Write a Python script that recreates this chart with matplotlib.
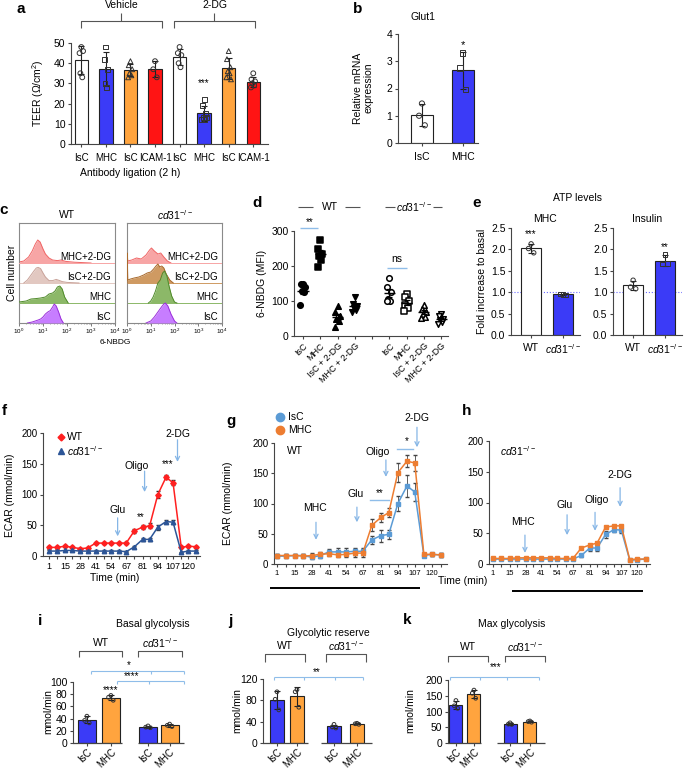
import numpy as np
import matplotlib
matplotlib.use("Agg")
import matplotlib.pyplot as plt

plt.rcParams["font.family"] = ["Liberation Sans", "DejaVu Sans"]
plt.rcParams["font.size"] = 7.5
plt.rcParams["mathtext.fontset"] = "custom"
plt.rcParams["mathtext.rm"] = "Liberation Sans"
plt.rcParams["mathtext.it"] = "Liberation Sans:italic"
plt.rcParams["mathtext.bf"] = "Liberation Sans:bold"
plt.rcParams["axes.linewidth"] = 0.8

# ---------------- data ----------------
a_labels = ["IsC", "MHC", "IsC", "ICAM-1", "IsC", "MHC", "IsC", "ICAM-1"]
a_points = [
    [48, 45, 46, 35, 33],
    [48, 42, 37, 30, 28],
    [41, 39, 37, 35, 34, 33],
    [41, 37, 33],
    [48, 45, 44, 40, 38],
    [22, 19, 15, 13, 12, 12, 13],
    [46, 42, 38, 36, 35, 33, 32],
    [35, 32, 31, 30, 29, 28],
]

b_labels = ["IsC", "MHC"]
b_points = [[1.45, 1.0, 0.65], [3.3, 2.75, 1.95]]

c_rows = ["IsC", "MHC", "IsC+2-DG", "MHC+2-DG"]
wt_isc_logx = [0.35, 0.55, 0.8, 0.9, 1.0, 1.1, 1.2, 1.3, 1.4, 1.47, 1.55, 1.65, 1.75, 1.85]
wt_isc_h = [0.0, 0.05, 0.15, 0.2, 0.3, 0.45, 0.55, 0.62, 0.8, 0.95, 0.85, 0.55, 0.2, 0.0]
wt_mhc_logx = [0.0, 0.3, 0.5, 0.7, 0.9, 1.1, 1.25, 1.4, 1.5, 1.6, 1.7, 1.8, 1.9, 2.05]
wt_mhc_h = [0.05, 0.1, 0.2, 0.22, 0.25, 0.3, 0.45, 0.5, 0.6, 0.8, 0.85, 0.7, 0.3, 0.0]
wt_isc2dg_logx = [0.2, 0.35, 0.5, 0.62, 0.72, 0.8, 0.9, 1.0, 1.1, 1.25, 1.4, 1.55, 1.65, 1.8, 2.0, 2.5]
wt_isc2dg_h = [0.0, 0.15, 0.4, 0.6, 0.75, 0.78, 0.72, 0.5, 0.3, 0.12, 0.12, 0.18, 0.14, 0.07, 0.03, 0.0]
wt_mhc2dg_logx = [0.0, 0.2, 0.4, 0.55, 0.68, 0.78, 0.88, 1.0, 1.1, 1.25, 1.4, 1.6, 1.75, 1.95, 2.3, 3.0]
wt_mhc2dg_h = [0.05, 0.1, 0.3, 0.6, 0.95, 1.15, 1.05, 0.7, 0.45, 0.25, 0.15, 0.12, 0.15, 0.08, 0.04, 0.0]
ko_isc_logx = [0.8, 1.0, 1.15, 1.3, 1.45, 1.55, 1.62, 1.72, 1.85, 2.0, 2.1]
ko_isc_h = [0.0, 0.1, 0.3, 0.55, 0.8, 0.95, 1.0, 0.85, 0.45, 0.1, 0.0]
ko_mhc_logx = [0.9, 1.0, 1.1, 1.2, 1.3, 1.4, 1.5, 1.58, 1.68, 1.78, 1.88, 2.0, 2.1]
ko_mhc_h = [0.0, 0.1, 0.3, 0.6, 1.0, 1.15, 1.5, 1.6, 1.35, 0.8, 0.35, 0.05, 0.0]
ko_isc2dg_logx = [0.0, 0.01, 0.03, 0.15, 0.3, 0.5, 0.7, 0.85, 1.0, 1.12, 1.22, 1.3, 1.38, 1.46, 1.55, 1.65, 1.8, 1.95]
ko_isc2dg_h = [0.0, 1.5, 0.15, 0.2, 0.25, 0.3, 0.4, 0.5, 0.55, 0.7, 0.85, 0.95, 0.8, 0.85, 0.75, 0.45, 0.15, 0.0]
ko_mhc2dg_logx = [0.0, 0.01, 0.03, 0.2, 0.4, 0.6, 0.8, 0.95, 1.03, 1.15, 1.3, 1.42, 1.55, 1.7, 1.85]
ko_mhc2dg_h = [0.0, 0.5, 0.1, 0.15, 0.25, 0.2, 0.4, 0.65, 0.75, 0.6, 0.45, 0.5, 0.3, 0.1, 0.0]

d_labels = ["IsC", "MHC", "IsC + 2-DG", "MHC + 2-DG"]
d_wt_points = [
    [150, 148, 140, 128, 125, 88],
    [275, 250, 235, 228, 218, 198],
    [85, 70, 58, 50, 42, 25],
    [112, 92, 85, 80, 75, 68],
]
d_ko_points = [
    [165, 140, 125, 105, 100, 100],
    [120, 112, 100, 90, 80, 72],
    [88, 78, 70, 62, 55, 52],
    [62, 58, 50, 45, 40, 35],
]

e_mhc_points = [[2.13, 2.02, 1.92], [0.95, 0.96, 0.93]]
e_ins_points = [[1.28, 1.12, 1.08], [1.88, 1.66, 1.67]]

times = [1, 8, 15, 21, 28, 34, 41, 48, 54, 61, 67, 74, 81, 87, 94, 101, 107, 114, 120, 127]
time_ticks = [1, 15, 28, 41, 54, 67, 81, 94, 107, 120]
f_wt = [14, 14, 16, 14, 12, 13, 21, 21, 21, 21, 21, 41, 47, 49, 100, 128, 119, 14, 16, 15]
f_wt_err = [2, 2, 2, 1.5, 1.5, 2, 1.5, 1.5, 1.5, 1.5, 1.5, 3, 3, 4, 5, 3, 4, 1.5, 1.5, 1.5]
f_ko = [8, 8, 9, 9, 8, 8, 8, 8, 8, 8, 7, 15, 27, 27, 47, 56, 55, 6, 8, 8]
f_ko_err = [1, 1, 1, 1, 1, 1, 1, 1, 1, 1, 1, 2, 2, 2, 4, 3, 3, 1, 1, 1]
g_isc = [13, 13, 14, 14, 11, 14, 20, 20, 20, 21, 21, 40, 47, 49, 100, 129, 119, 14, 16, 15]
g_isc_err = [3, 3, 3, 3, 3, 4, 5, 6, 6, 6, 6, 7, 10, 8, 12, 18, 15, 3, 3, 3]
g_mhc = [14, 14, 14, 13, 14, 16, 17, 15, 16, 18, 18, 64, 77, 85, 151, 170, 167, 16, 16, 15]
g_mhc_err = [3, 3, 3, 3, 4, 4, 3, 4, 4, 6, 6, 10, 7, 8, 16, 10, 13, 3, 3, 3]
h_isc = [8, 8, 8, 8, 8, 8, 8, 8, 8, 8, 8, 14, 26, 26, 48, 56, 55, 6, 7, 8]
h_isc_err = [1, 1, 1, 1, 1, 1, 1, 1, 1, 1, 1, 2, 5, 5, 5, 4, 5, 1, 1, 1]
h_mhc = [9, 9, 9, 10, 10, 10, 10, 10, 9, 9, 9, 26, 31, 34, 60, 62, 62, 7, 8, 8]
h_mhc_err = [1, 1, 1, 1, 1, 1, 1, 1, 1, 1, 1, 2, 2, 2, 2, 2, 2, 1, 1, 1]

ijk_labels = ["IsC", "MHC", "IsC", "MHC"]
i_points = [[44, 37, 33], [78, 75, 70], [28, 26, 25], [31, 29, 27]]
j_points = [[96, 82, 62], [100, 96, 67], [35, 30, 28], [37, 36, 35]]
k_points = [[135, 118, 110], [168, 158, 142], [64, 60, 59], [70, 68, 66]]

# ---------------- style ----------------
BLUE = "#3b3bf7"
ORANGE = "#ffa43e"
RED = "#ff1414"
AX = "#454545"
SIG = "#8fbde9"
ARROW = "#86b6e6"
KO = r"$\mathit{cd31}^{-/-}$"

W, H = 685, 771
fig = plt.figure(figsize=(W / 100, H / 100), dpi=100)


def px_axes(x0, y0, x1, y1):
    return fig.add_axes([x0 / W, 1 - y1 / H, (x1 - x0) / W, (y1 - y0) / H])


def style(ax, size=7.5):
    for s in ["top", "right"]:
        ax.spines[s].set_visible(False)
    for s in ["left", "bottom"]:
        ax.spines[s].set_color(AX)
    ax.tick_params(length=2.5, width=0.8, color=AX, labelsize=size, pad=1.5)
    ax.patch.set_alpha(0)


JIT = np.array([0, -0.13, 0.13, -0.07, 0.07, -0.17, 0.17])


def bars(ax, pts_list, colors, markers, width, pos=None, ms=12):
    pos = np.arange(len(pts_list)) if pos is None else np.asarray(pos)
    means = [np.mean(p) for p in pts_list]
    sds = [np.std(p, ddof=1) for p in pts_list]
    ax.bar(pos, means, width=width, color=colors, edgecolor="#222", linewidth=0.8, zorder=2)
    ax.errorbar(pos, means, yerr=sds, fmt="none", ecolor="#222", elinewidth=0.8,
                capsize=2, capthick=0.8, zorder=3)
    for x, p, m in zip(pos, pts_list, markers):
        ax.scatter(x + JIT[:len(p)] * width, p, marker=m, s=ms, facecolor="none",
                   edgecolor="#333", linewidths=0.7, zorder=4, clip_on=False)
    return pos


# ---------------- panel a ----------------
ax = px_axes(71, 43, 268, 144)
style(ax)
bars(ax, a_points, ["white", BLUE, ORANGE, RED] * 2, ["o", "s", "^", "o"] * 2, 0.55)
ax.set_xlim(-0.42, 7.6)
ax.set_ylim(0, 50)
ax.set_yticks(range(0, 51, 10))
ax.set_xticks(range(8))
ax.set_xticklabels(a_labels, fontsize=7)
ax.tick_params(axis="x", pad=4)
ax.text(5, 30, "***", ha="center", va="center", fontsize=7)

# ---------------- panel b ----------------
ax = px_axes(398, 34, 478, 143)
style(ax)
bars(ax, b_points, ["white", BLUE], ["o", "s"], 0.54, ms=14)
ax.set_xlim(-0.585, 1.37)
ax.set_ylim(0, 4)
ax.set_yticks(range(5))
ax.set_xticks([0, 1])
ax.set_xticklabels(b_labels)
ax.tick_params(axis="x", pad=4)
ax.text(1, 3.6, "*", ha="center", va="center", fontsize=8)

# ---------------- panel c ----------------
c_wt = [(wt_isc_logx, wt_isc_h, "#c77dff", "#9b30d9"),
        (wt_mhc_logx, wt_mhc_h, "#8cb868", "#4f8a2a"),
        (wt_isc2dg_logx, wt_isc2dg_h, "#e2c8c1", "#c9a39a"),
        (wt_mhc2dg_logx, wt_mhc2dg_h, "#f7a5a5", "#f06565")]
c_ko = [(ko_isc_logx, ko_isc_h, "#c77dff", "#9b30d9"),
        (ko_mhc_logx, ko_mhc_h, "#8cb868", "#4f8a2a"),
        (ko_isc2dg_logx, ko_isc2dg_h, "#cf9a62", "#a8692c"),
        (ko_mhc2dg_logx, ko_mhc2dg_h, "#f7a5a5", "#f06565")]
for box, hists in [((19, 223, 115, 323), c_wt), ((127, 223, 222, 323), c_ko)]:
    ax = px_axes(*box)
    ax.set_xscale("log")
    for off in [3, 2, 1, 0]:
        lx, hh, fc, ec = hists[off]
        xs = 10 ** np.asarray(lx)
        ys = off + np.asarray(hh)
        ax.axhline(off, color=fc, lw=0.7, zorder=off)
        ax.fill_between(xs, off, ys, color=fc, lw=0, zorder=4 - off + 1)
        ax.plot(xs, ys, color=ec, lw=0.7, zorder=4 - off + 1)
        ax.text(0.96, off + 0.28, c_rows[off], transform=ax.get_yaxis_transform(),
                ha="right", va="center", fontsize=7, zorder=10)
    ax.set_xlim(1, 1e4)
    ax.set_ylim(0, 5)
    ax.set_yticks([])
    for s in ax.spines.values():
        s.set_color("#8a8a8a")
    ax.tick_params(axis="x", which="major", length=2, width=0.6, labelsize=4.5, pad=1, color="#666")
    ax.tick_params(axis="x", which="minor", length=1, width=0.4, color="#666")

# ---------------- panel d ----------------
ax = px_axes(294, 231, 448, 336)
style(ax)
d_pos = [0, 1, 2, 3, 5, 6, 7, 8]
d_marks = ["o", "s", "^", "v"]
for k, pts in enumerate(d_wt_points + d_ko_points):
    x = d_pos[k]
    m = d_marks[k % 4]
    filled = k < 4
    mean = np.mean(pts)
    sem = np.std(pts, ddof=1) / np.sqrt(len(pts))
    ax.scatter(x + JIT[:len(pts)] * 0.9, pts, marker=m, s=16,
               facecolor="black" if filled else "white", edgecolor="black",
               linewidths=1.1, zorder=3)
    ax.hlines(mean, x - 0.32, x + 0.32, color="black", lw=1, zorder=4)
    ax.errorbar(x, mean, yerr=sem, fmt="none", ecolor="black", elinewidth=0.9,
                capsize=2.5, capthick=0.9, zorder=4)
ax.set_xlim(-0.52, 8.4)
ax.set_ylim(0, 300)
ax.set_yticks([0, 100, 200, 300])
ax.set_xticks(range(9))
ax.set_xticklabels(d_labels + [""] + d_labels, rotation=45, ha="right",
                   rotation_mode="anchor", fontsize=6.5)

# ---------------- panel e ----------------
for box, pts, title, star, sy in [((511, 228, 580, 335), e_mhc_points, "MHC", "***", 2.35),
                                  ((613, 228, 682, 335), e_ins_points, "Insulin", "**", 2.05)]:
    ax = px_axes(*box)
    style(ax)
    ax.axhline(1.0, color="#6a6aff", lw=0.8, ls=":", zorder=1)
    bars(ax, pts, ["white", BLUE], ["o", "s"], 0.63, ms=10)
    ax.set_xlim(-0.63, 1.53)
    ax.set_ylim(0, 2.5)
    ax.set_yticks(np.arange(0, 2.6, 0.5))
    ax.set_yticklabels([f"{v:.1f}" for v in np.arange(0, 2.6, 0.5)])
    ax.set_xticks([0, 1])
    ax.set_xticklabels(["WT", KO])
    ax.tick_params(axis="x", pad=3)
    ax.set_title(title, fontsize=7.5, pad=4)
    ax.text(0 if star == "***" else 1, sy, star, ha="center", va="center", fontsize=7)


# ---------------- panels f, g, h ----------------
def time_axis(ax, size):
    ax.set_xticks(times)
    ax.set_xticklabels([str(t) if t in time_ticks else "" for t in times])
    ax.tick_params(axis="x", length=2, labelsize=size, pad=2)
    ax.set_ylim(0, 200)
    ax.set_yticks(range(0, 201, 50))


def arrow(ax, x, y0, y1):
    ax.annotate("", xy=(x, y1), xytext=(x, y0),
                arrowprops=dict(arrowstyle="->", color=ARROW, lw=0.9, shrinkA=0, shrinkB=0),
                annotation_clip=False)


ax = px_axes(43, 433, 200, 556)
style(ax, 7)
ax.errorbar(times, f_wt, yerr=f_wt_err, color="#ff2020", marker="D", ms=2.8, lw=1.1,
            ecolor="#333", elinewidth=0.6, capsize=1.2, zorder=3)
ax.errorbar(times, f_ko, yerr=f_ko_err, color="#2c5597", marker="^", ms=3.2, lw=1.1,
            ecolor="#333", elinewidth=0.6, capsize=1.2, zorder=3)
ax.set_xlim(-4, 130)
time_axis(ax, 6.5)
ax.text(59.7, 75, "Glu", ha="center", va="center")
arrow(ax, 59.7, 62, 32)
ax.text(79.3, 64, "**", ha="center", va="center", fontsize=7)
ax.text(76, 146, "Oligo", ha="center", va="center")
arrow(ax, 82.7, 138, 104)
ax.text(102, 150, "***", ha="center", va="center", fontsize=7)
ax.text(110.8, 198, "2-DG", ha="center", va="center")
arrow(ax, 110.8, 189, 153)

ax = px_axes(274, 443, 447, 564)
style(ax, 7)
ax.errorbar(times, g_isc, yerr=g_isc_err, color="#5b9bd5", marker="s", ms=2.2, lw=1.1,
            ecolor="#444", elinewidth=0.6, capsize=1.3, zorder=3)
ax.errorbar(times, g_mhc, yerr=g_mhc_err, color="#ed7d31", marker="s", ms=2.2, lw=1.1,
            ecolor="#444", elinewidth=0.6, capsize=1.3, zorder=3)
ax.set_xlim(-1.3, 131.8)
time_axis(ax, 5.5)
ax.text(14.8, 187, "WT", ha="center", va="center")
ax.text(30.2, 93, "MHC", ha="center", va="center")
arrow(ax, 31, 69, 40)
ax.text(61.8, 116, "Glu", ha="center", va="center")
arrow(ax, 62.5, 94, 69)
ax.text(80, 118, "**", ha="center", va="center", fontsize=7)
ax.plot([72.5, 87], [106, 106], color=SIG, lw=1)
ax.text(78.7, 185, "Oligo", ha="center", va="center")
arrow(ax, 84.8, 172, 144)
ax.text(101, 204, "*", ha="center", va="center", fontsize=7)
ax.plot([93.3, 105.6], [190, 190], color=SIG, lw=1, clip_on=False)
ax.text(108.7, 241, "2-DG", ha="center", va="center")
arrow(ax, 108.7, 226, 193)

ax = px_axes(489, 441, 650, 564)
style(ax, 7)
ax.errorbar(times, h_isc, yerr=h_isc_err, color="#5b9bd5", marker="s", ms=2.2, lw=1.1,
            ecolor="#444", elinewidth=0.6, capsize=1.3, zorder=3)
ax.errorbar(times, h_mhc, yerr=h_mhc_err, color="#ed7d31", marker="s", ms=2.2, lw=1.1,
            ecolor="#444", elinewidth=0.6, capsize=1.3, zorder=3)
ax.set_xlim(-2.3, 130.7)
time_axis(ax, 5.5)
ax.text(21.7, 184, KO, ha="center", va="center")
ax.text(25.8, 68, "MHC", ha="center", va="center")
arrow(ax, 27.4, 47, 18)
ax.text(60.5, 96, "Glu", ha="center", va="center")
arrow(ax, 62.2, 80, 47)
ax.text(87, 104, "Oligo", ha="center", va="center")
arrow(ax, 85.3, 84, 54)
ax.text(106, 145, "2-DG", ha="center", va="center")
arrow(ax, 106, 124, 93)


# ---------------- panels i, j, k ----------------
def split_bars(box, pts, pos, width, xlim, seg1, seg2, ylim, yticks):
    ax = px_axes(*box)
    style(ax)
    ax.spines["bottom"].set_visible(False)
    bars(ax, pts, [BLUE, ORANGE, BLUE, ORANGE], ["o", "o", "o", "o"], width, pos=pos, ms=7)
    ax.plot(seg1, [0, 0], color=AX, lw=0.9, clip_on=False, solid_capstyle="butt")
    ax.plot(seg2, [0, 0], color=AX, lw=0.9, clip_on=False, solid_capstyle="butt")
    ax.set_xlim(*xlim)
    ax.set_ylim(*ylim)
    ax.set_yticks(yticks)
    ax.set_xticks(pos)
    ax.set_xticklabels(ijk_labels, rotation=45, ha="right", rotation_mode="anchor", fontsize=7)
    ax.tick_params(axis="x", pad=1, length=2)
    return ax


ax = split_bars((73, 682, 184, 743), i_points, [0, 1, 2.55, 3.45], 0.75, (-0.58, 4.05),
                [-0.58, 1.46], [2.12, 4.05], (0, 100), range(0, 101, 20))
ax.text(1, 86, "****", ha="center", va="center", fontsize=7)
ax = split_bars((263, 679, 372, 743), j_points, [0, 1, 2.85, 4.0], 0.7, (-0.7, 4.75),
                [-0.7, 1.55], [2.2, 4.75], (0, 120), range(0, 121, 40))
ax = split_bars((448, 680, 545, 743), k_points, [0, 1, 3.0, 4.1], 0.72, (-0.44, 4.94),
                [-0.44, 1.39], [2.28, 4.94], (0, 200), range(0, 201, 50))

# ---------------- overlay: labels, brackets, annotations ----------------
ov = fig.add_axes([0, 0, 1, 1], zorder=20)
ov.set_xlim(0, W)
ov.set_ylim(H, 0)
ov.axis("off")
ov.patch.set_alpha(0)


def t(x, y, s, **kw):
    kw.setdefault("ha", "center")
    kw.setdefault("va", "center")
    ov.text(x, y, s, **kw)


def line(xs, ys, color=AX, lw=0.8):
    ov.plot(xs, ys, color=color, lw=lw, solid_capstyle="butt")


for letter, x, y in [("a", 21, 9), ("b", 358, 9), ("c", 4, 210), ("d", 257, 203),
                     ("e", 477, 203), ("f", 4, 411), ("g", 231, 421), ("h", 467, 411),
                     ("i", 40, 621), ("j", 230, 621), ("k", 407, 620)]:
    t(x, y, letter, fontsize=11, fontweight="bold")

# a
for x0, x1, lab in [(81, 162, "Vehicle"), (174, 255, "2-DG")]:
    line([x0, x0, x1, x1], [28, 21, 21, 28], color="#555")
    line([(x0 + x1) / 2] * 2, [21, 13], color="#555")
    t((x0 + x1) / 2, 5, lab)
t(130, 173, "Antibody ligation (2 h)")
t(38, 93, r"TEER ($\Omega$/cm$^2$)", rotation=90)

# b
t(423, 17, "Glut1")
t(363, 88, "Relative mRNA\nexpression", rotation=90, linespacing=1.1)

# c
t(67, 215, "WT")
t(175, 215, KO)
t(12, 273, "Cell number", rotation=90)
t(115, 343, "6-NBDG", fontsize=6)

# d
line([298, 313], [207, 207], color="#555")
t(330, 207, "WT")
line([345, 360], [207, 207], color="#555")
line([385, 395], [207, 207], color="#555")
t(414, 207, KO)
line([433, 442], [207, 207], color="#555")
t(310, 222, "**", fontsize=7)
line([300, 318], [228, 228], color=SIG, lw=1)
t(397, 259, "ns")
line([387, 407], [268, 268], color=SIG, lw=1)
t(262, 283, "6-NBDG (MFI)", rotation=90)

# e
t(578, 198, "ATP levels")
t(482, 281, "Fold incrrease to basal", rotation=90)

# f
ov.plot(61, 437, "D", color="#ff2020", ms=3.5)
t(67, 437, "WT", ha="left")
ov.plot(61, 451, "^", color="#2c5597", ms=4)
t(67, 451, KO, ha="left")
t(10, 495, "ECAR (mmol/min)", rotation=90)
t(115, 578, "Time (min)")

# g / h
ov.plot(280, 417, "o", color="#5b9bd5", ms=6)
t(288, 417, "IsC", ha="left")
ov.plot(280, 430, "o", color="#ed7d31", ms=6)
t(288, 430, "MHC", ha="left")
t(228, 503, "ECAR (mmol/min)", rotation=90)
line([270, 420], [588, 588], color="black", lw=1.4)
line([512, 643], [591, 591], color="black", lw=1.4)
t(463, 581, "Time (min)")

# i
t(153, 624, "Basal glycolysis")
for x0, x1, lab in [(79, 122, "WT"), (138, 182, KO)]:
    line([x0, x0, x1, x1], [657, 651, 651, 657], color="#555")
    t((x0 + x1) / 2, 643, lab)
t(129, 665, "*", fontsize=7)
line([91, 184], [671, 671], color=SIG)
for xx in [91, 151, 184]:
    line([xx, xx], [671, 674], color=SIG)
t(132, 676, "****", fontsize=7)
line([117, 184], [681, 681], color=SIG)
for xx in [117, 149, 184]:
    line([xx, xx], [681, 684], color=SIG)
t(48, 712, "mmol/min", rotation=90)

# j
t(328, 633, "Glycolytic reserve")
for x0, x1, lab in [(265, 305, "WT"), (326, 366, KO)]:
    line([x0, x0, x1, x1], [662, 654, 654, 662], color="#555")
    t((x0 + x1) / 2, 646, lab)
t(317, 672, "**", fontsize=7)
line([274, 363], [677, 677], color=SIG)
for xx in [274, 304, 335, 363]:
    line([xx, xx], [677, 680], color=SIG)
t(237, 711, "mmol/min", rotation=90)

# k
t(512, 624, "Max glycolysis")
for x0, x1, lab in [(448, 488, "WT"), (505, 545, KO)]:
    line([x0, x0, x1, x1], [662, 656, 656, 662], color="#555")
    t((x0 + x1) / 2, 647, lab)
t(496, 667, "***", fontsize=7)
line([450, 539], [677, 677], color=SIG)
for xx in [450, 480, 507, 539]:
    line([xx, xx], [677, 680], color=SIG)
t(410, 711, "mmol/min", rotation=90)

fig.savefig("out.png", dpi=100)
